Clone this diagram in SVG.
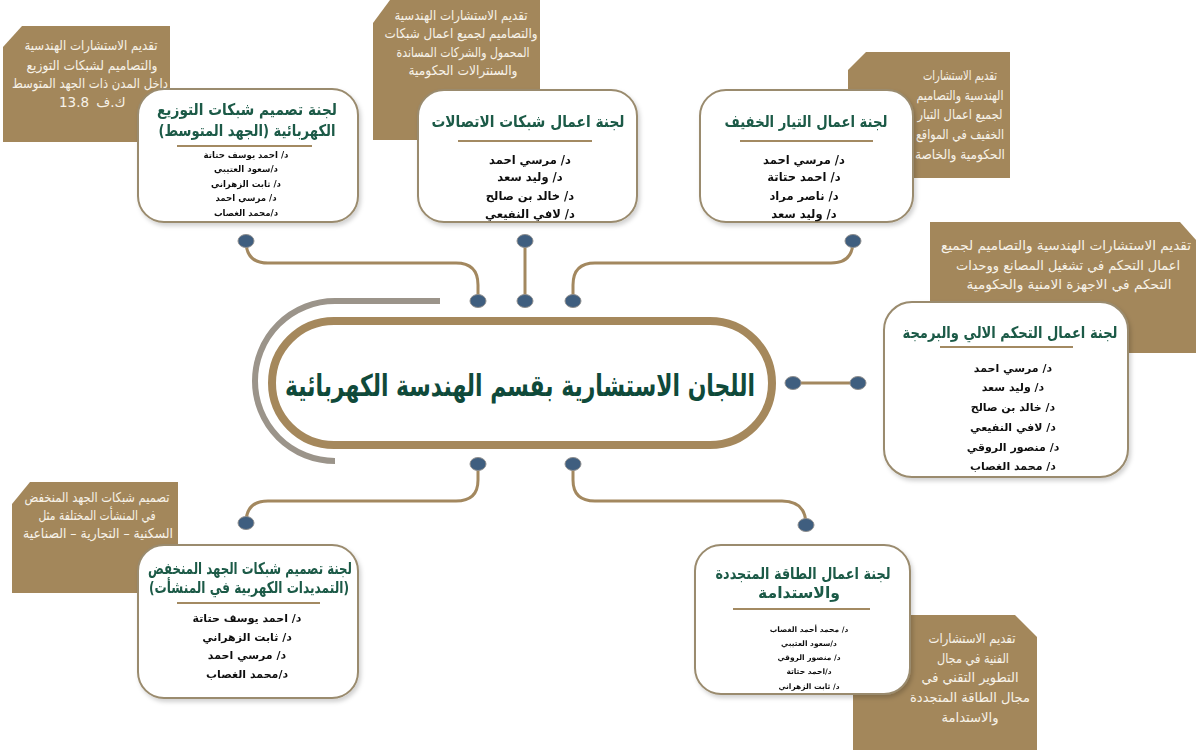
<svg xmlns="http://www.w3.org/2000/svg" width="1200" height="750" viewBox="0 0 1200 750">
<defs>
<filter id="sh" x="-10%" y="-10%" width="130%" height="130%"><feDropShadow dx="2" dy="3" stdDeviation="2" flood-color="#000" flood-opacity="0.18"/></filter>
<style>
text{font-family:"DejaVu Sans","Noto Sans",sans-serif;text-anchor:middle;dominant-baseline:central}
.note{fill:#a3875b}
.nt{fill:#f7f2e8;font-size:13.5px}
.box{fill:#fff;stroke:#9a8b6e;stroke-width:2}
.ttl{fill:#1b5a47;font-weight:bold;font-size:16px}
.nm{fill:#111;font-weight:bold;font-size:11px}
.nm2{fill:#111;font-weight:bold;font-size:11.5px}
.nms{fill:#111;font-weight:bold;font-size:8.6px}
.nmx{fill:#111;font-weight:bold;font-size:7.5px}
.div{stroke:#a38a62;stroke-width:2}
.con{fill:none;stroke:#a3885f;stroke-width:3}
.dot{fill:#3f5e7f;stroke:#8e8e8e;stroke-width:1}
</style>
</defs>
<rect width="1200" height="750" fill="#fff"/>

<g id="notes">
<polygon class="note" points="22,26 170,26 170,142 3,142 3,47"/>
<polygon class="note" points="390,0 540,0 540,140 373,140 373,23"/>
<polygon class="note" points="866,52 1010,52 1010,178 848,178 848,70"/>
<polygon class="note" points="930,222 1180,222 1196,240 1196,353 930,353"/>
<polygon class="note" points="30,482 178,482 178,593 12,593 12,504"/>
<polygon class="note" points="853,615 1015,615 1037,637 1037,750 853,750"/>
<text class="nt" x="91" y="45" textLength="133" lengthAdjust="spacingAndGlyphs">تقديم الاستشارات الهندسية</text>
<text class="nt" x="92" y="65" textLength="131" lengthAdjust="spacingAndGlyphs">والتصاميم لشبكات التوزيع</text>
<text class="nt" x="90" y="83" textLength="156" lengthAdjust="spacingAndGlyphs">داخل المدن ذات الجهد المتوسط</text>
<text class="nt" x="74" y="102">13.8</text>
<text class="nt" x="111" y="102">ك.ف</text>
<text class="nt" x="461" y="15" textLength="133" lengthAdjust="spacingAndGlyphs">تقديم الاستشارات الهندسية</text>
<text class="nt" x="461" y="33" textLength="153" lengthAdjust="spacingAndGlyphs">والتصاميم لجميع اعمال شبكات</text>
<text class="nt" x="463" y="52" textLength="133" lengthAdjust="spacingAndGlyphs">المحمول والشركات المساندة</text>
<text class="nt" x="463" y="70" textLength="109" lengthAdjust="spacingAndGlyphs">والسنترالات الحكومية</text>
<text class="nt" x="960" y="75" textLength="74" lengthAdjust="spacingAndGlyphs">تقديم الاستشارات</text>
<text class="nt" x="960" y="95" textLength="87" lengthAdjust="spacingAndGlyphs">الهندسية والتصاميم</text>
<text class="nt" x="960" y="114" textLength="85" lengthAdjust="spacingAndGlyphs">لجميع اعمال التيار</text>
<text class="nt" x="960" y="134" textLength="88" lengthAdjust="spacingAndGlyphs">الخفيف في المواقع</text>
<text class="nt" x="960" y="154" textLength="90" lengthAdjust="spacingAndGlyphs">الحكومية والخاصة</text>
<text class="nt" x="1066" y="245" textLength="250" lengthAdjust="spacingAndGlyphs">تقديم الاستشارات الهندسية والتصاميم لجميع</text>
<text class="nt" x="1068" y="265" textLength="224" lengthAdjust="spacingAndGlyphs">اعمال التحكم في تشغيل المصانع ووحدات</text>
<text class="nt" x="1069" y="284" textLength="205" lengthAdjust="spacingAndGlyphs">التحكم في الاجهزة الامنية والحكومية</text>
<text class="nt" x="97" y="497" textLength="145" lengthAdjust="spacingAndGlyphs">تصميم شبكات الجهد المنخفض</text>
<text class="nt" x="97" y="515" textLength="117" lengthAdjust="spacingAndGlyphs">في المنشأت المختلفة مثل</text>
<text class="nt" x="98" y="533" textLength="150" lengthAdjust="spacingAndGlyphs">السكنية – التجارية – الصناعية</text>
<text class="nt" x="972" y="638" textLength="87" lengthAdjust="spacingAndGlyphs">تقديم الاستشارات</text>
<text class="nt" x="973" y="658" textLength="72" lengthAdjust="spacingAndGlyphs">الفنية في مجال</text>
<text class="nt" x="970" y="677" textLength="97" lengthAdjust="spacingAndGlyphs">التطوير التقني في</text>
<text class="nt" x="970" y="697" textLength="120" lengthAdjust="spacingAndGlyphs">مجال الطاقة المتجددة</text>
<text class="nt" x="970" y="717" textLength="57" lengthAdjust="spacingAndGlyphs">والاستدامة</text>
</g>

<g id="connectors">
<path d="M440,301 H335 A80,80 0 0 0 335,461" fill="none" stroke="#9b948a" stroke-width="6"/>
<path class="con" d="M246,241 Q246,263 268,263 H456 Q478,263 478,285 V301"/>
<path class="con" d="M525,241 V301"/>
<path class="con" d="M573,301 V285 Q573,263 595,263 H831 Q853,263 853,241"/>
<path class="con" d="M793,383 H858"/>
<path class="con" d="M478,464 V480 Q478,501 456,501 H268 Q246,501 246,523"/>
<path class="con" d="M573,464 V480 Q573,501 595,501 H782 Q806,501 806,525"/>
<ellipse class="dot" cx="246" cy="241" rx="8" ry="6.5"/>
<ellipse class="dot" cx="525" cy="241" rx="8" ry="6.5"/>
<ellipse class="dot" cx="853" cy="241" rx="8" ry="6.5"/>
<ellipse class="dot" cx="478" cy="301" rx="8" ry="6.5"/>
<ellipse class="dot" cx="525" cy="301" rx="8" ry="6.5"/>
<ellipse class="dot" cx="573" cy="301" rx="8" ry="6.5"/>
<ellipse class="dot" cx="793" cy="383" rx="8" ry="6.5"/>
<ellipse class="dot" cx="858" cy="383" rx="8" ry="6.5"/>
<ellipse class="dot" cx="478" cy="464" rx="8" ry="6.5"/>
<ellipse class="dot" cx="573" cy="464" rx="8" ry="6.5"/>
<ellipse class="dot" cx="246" cy="523" rx="8" ry="6.5"/>
<ellipse class="dot" cx="806" cy="525" rx="8" ry="6.5"/>
</g>

<g id="center">
<rect x="272" y="321" width="500" height="124" rx="62" fill="#fff" stroke="#a5885c" stroke-width="8"/>
<text x="520" y="385" fill="#0f4a3a" font-weight="bold" font-size="30" textLength="470" lengthAdjust="spacingAndGlyphs">اللجان الاستشارية بقسم الهندسة الكهربائية</text>
</g>

<g id="node1" filter="url(#sh)">
<rect class="box" x="138" y="89" width="220" height="133" rx="26"/>
<text class="ttl" x="247" y="109" textLength="180" lengthAdjust="spacingAndGlyphs">لجنة تصميم شبكات التوزيع</text>
<text class="ttl" x="247" y="130" textLength="177" lengthAdjust="spacingAndGlyphs">&#x202B;الكهربائية (الجهد المتوسط)&#x202C;</text>
<line class="div" x1="177" y1="146" x2="312" y2="146"/>
<text class="nms" x="246" y="155">د/ احمد يوسف حتاتة</text>
<text class="nms" x="246" y="169">د/سعود العتيبي</text>
<text class="nms" x="246" y="184">د/ ثابت الزهراني</text>
<text class="nms" x="246" y="198">د/ مرسي احمد</text>
<text class="nms" x="246" y="213">د/محمد الغصاب</text>
</g>

<g id="node2" filter="url(#sh)">
<rect class="box" x="418" y="90" width="219" height="132" rx="26"/>
<text class="ttl" x="528" y="121" textLength="193" lengthAdjust="spacingAndGlyphs">لجنة اعمال شبكات الاتصالات</text>
<line class="div" x1="458" y1="141" x2="592" y2="141"/>
<text class="nm2" x="530" y="160">د/ مرسي احمد</text>
<text class="nm2" x="530" y="177">د/ وليد سعد</text>
<text class="nm2" x="530" y="196">د/ خالد بن صالح</text>
<text class="nm2" x="530" y="214">د/ لافي النفيعي</text>
</g>

<g id="node3" filter="url(#sh)">
<rect class="box" x="700" y="90" width="213" height="132" rx="26"/>
<text class="ttl" x="806" y="121" textLength="163" lengthAdjust="spacingAndGlyphs">لجنة اعمال التيار الخفيف</text>
<line class="div" x1="740" y1="141" x2="873" y2="141"/>
<text class="nm2" x="804" y="160">د/ مرسي احمد</text>
<text class="nm2" x="804" y="177">د/ احمد حتاتة</text>
<text class="nm2" x="804" y="196">د/ ناصر مراد</text>
<text class="nm2" x="804" y="214">د/ وليد سعد</text>
</g>

<g id="node4" filter="url(#sh)">
<rect class="box" x="884" y="302" width="244" height="175" rx="28"/>
<text class="ttl" x="1010" y="332" textLength="215" lengthAdjust="spacingAndGlyphs">لجنة اعمال التحكم الالي والبرمجة</text>
<line class="div" x1="940" y1="347" x2="1073" y2="347"/>
<text class="nm" x="1013" y="368">د/ مرسي احمد</text>
<text class="nm" x="1013" y="387">د/ وليد سعد</text>
<text class="nm" x="1013" y="407">د/ خالد بن صالح</text>
<text class="nm" x="1013" y="427">د/ لافي النفيعي</text>
<text class="nm" x="1013" y="447">د/ منصور الروقي</text>
<text class="nm" x="1013" y="466">د/ محمد الغصاب</text>
</g>

<g id="node5" filter="url(#sh)">
<rect class="box" x="138" y="545" width="220" height="153" rx="26"/>
<text class="ttl" x="250" y="568" textLength="204" lengthAdjust="spacingAndGlyphs">لجنة تصميم شبكات الجهد المنخفض</text>
<text class="ttl" x="249" y="587" textLength="200" lengthAdjust="spacingAndGlyphs">&#x202B;(التمديدات الكهربية في المنشأت)&#x202C;</text>
<line class="div" x1="177" y1="603" x2="320" y2="603"/>
<text class="nm" x="247" y="618">د/ احمد يوسف حتاتة</text>
<text class="nm" x="247" y="637">د/ ثابت الزهراني</text>
<text class="nm" x="247" y="655">د/ مرسي احمد</text>
<text class="nm" x="247" y="674">د/محمد الغصاب</text>
</g>

<g id="node6" filter="url(#sh)">
<rect class="box" x="695" y="545" width="215" height="149" rx="26"/>
<text class="ttl" x="803" y="573" textLength="175" lengthAdjust="spacingAndGlyphs">لجنة اعمال الطاقة المتجددة</text>
<text class="ttl" x="799" y="592" textLength="82" lengthAdjust="spacingAndGlyphs">والاستدامة</text>
<line class="div" x1="733" y1="609" x2="870" y2="609"/>
<text class="nmx" x="809" y="629">د/ محمد أحمد الغصاب</text>
<text class="nmx" x="809" y="643">د/سعود العتيبي</text>
<text class="nmx" x="809" y="657">د/ منصور الروقي</text>
<text class="nmx" x="809" y="671">د/احمد حتاتة</text>
<text class="nmx" x="809" y="686">د/ ثابت الزهراني</text>
</g>
</svg>
